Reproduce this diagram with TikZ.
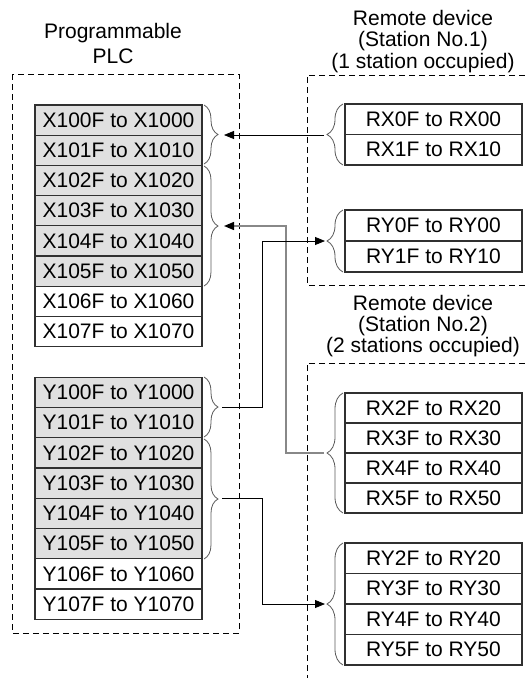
\documentclass[tikz,border=0pt]{standalone}
\usepackage{fontspec}
\setmainfont{Liberation Sans}
\usetikzlibrary{arrows.meta,decorations.pathreplacing}
\definecolor{cellgray}{HTML}{E0E0E0}
\definecolor{bordergray}{HTML}{303030}
\definecolor{bracegray}{HTML}{5A5A5A}
\definecolor{linkgray}{HTML}{888888}
\begin{document}
\begin{tikzpicture}[x=1pt,y=-1pt,
  cell/.style={draw=bordergray, line width=1.3pt, inner sep=0pt, font=\fontsize{21}{25}\selectfont},
  plccell/.style={cell, minimum width=167pt, minimum height=30.2pt},
  remcell/.style={cell, minimum width=177pt},
  title/.style={anchor=base, inner sep=0pt, font=\fontsize{21}{25}\selectfont},
  frame/.style={draw=black, line width=0.8pt, dash pattern=on 6pt off 4pt},
  brc/.style={draw=bracegray, line width=0.8pt, decorate, decoration={brace, amplitude=#1}},
  link/.style={draw=black, line width=0.8pt, -{Triangle[length=10pt,width=8pt]}},
  glink/.style={draw=linkgray, line width=1.3pt, -{Triangle[length=10pt,width=8pt,color=black]}}]
\useasboundingbox (0,0) rectangle (525,678);

% dashed frames
\draw[frame] (12,74) rectangle (239,633);
\draw[frame] (525,75) -- (307,75) -- (307,285) -- (525,285);
\draw[frame] (525,363) -- (307,363) -- (307,678);

% titles
\node[title] (tplc1) at (113,38) {Programmable};
\node[title] (tplc2) at (113,63) {PLC};
\node[title] (ts11) at (423,25) {Remote device};
\node[title] (ts12) at (423,46.5) {(Station No.1)};
\node[title] (ts13) at (423,68) {(1 station occupied)};
\node[title] (ts21) at (423,310.5) {Remote device};
\node[title] (ts22) at (423,331.5) {(Station No.2)};
\node[title] (ts23) at (423,352.5) {(2 stations occupied)};

% PLC X table
\foreach \i/\f in {0/cellgray,1/cellgray,2/cellgray,3/cellgray,4/cellgray,5/cellgray,6/white,7/white}
  \node[plccell, fill=\f] (x\i) at (118.5,{105+30.2*(\i+0.5)}) {X10\i F to X10\i 0};
% PLC Y table
\foreach \i/\f in {0/cellgray,1/cellgray,2/cellgray,3/cellgray,4/cellgray,5/cellgray,6/white,7/white}
  \node[plccell, fill=\f] (y\i) at (118.5,{377.3+30.25*(\i+0.5)}) {Y10\i F to Y10\i 0};

% Station 1
\foreach \i in {0,1}
  \node[remcell, minimum height=30.5pt, fill=white] (rxa\i) at (433.5,{104+30.5*(\i+0.5)}) {RX\i F to RX\i 0};
\foreach \i in {0,1}
  \node[remcell, minimum height=31pt, fill=white] (rya\i) at (433.5,{210+31*(\i+0.5)}) {RY\i F to RY\i 0};
% Station 2
\foreach \i/\n in {0/2,1/3,2/4,3/5}
  \node[remcell, minimum height=30pt, fill=white] (rxb\i) at (433.5,{393+30*(\i+0.5)}) {RX\n F to RX\n 0};
\foreach \i/\n in {0/2,1/3,2/4,3/5}
  \node[remcell, minimum height=30.5pt, fill=white] (ryb\i) at (433.5,{543+30.5*(\i+0.5)}) {RY\n F to RY\n 0};

% braces PLC side
\draw[brc=14pt] (204,105) -- (204,164);
\draw[brc=14pt] (204,166) -- (204,286);
\draw[brc=14pt] (204,377) -- (204,437);
\draw[brc=14pt] (204,439) -- (204,559);
% braces remote side
\draw[brc=16pt] (343,165) -- (343,104);
\draw[brc=16pt] (343,272) -- (343,210);
\draw[brc=16pt] (343,513) -- (343,393);
\draw[brc=16pt] (343,665) -- (343,543);

% brace tips
\coordinate (bx1) at (218,135);
\coordinate (bx2) at (218,226);
\coordinate (by1) at (218,407);
\coordinate (by2) at (218,498);
\coordinate (rx1) at (327,135);
\coordinate (ry1) at (327,241);
\coordinate (rx2) at (327,453);
\coordinate (ry2) at (327,604);
% bends
\coordinate (g1) at (286,226);
\coordinate (b1) at (262,241);
\coordinate (b2) at (262,604);

% connectors
\draw[link, shorten <=3pt, shorten >=6pt] (rx1) -- (bx1);
\draw[glink, shorten <=3pt, shorten >=6pt] (rx2) -| (g1) -- (bx2);
\draw[link, shorten <=4pt, shorten >=2pt] (by1) -| (b1) -- (ry1);
\draw[link, shorten <=4pt, shorten >=2pt] (by2) -| (b2) -- (ry2);
\end{tikzpicture}
\end{document}
